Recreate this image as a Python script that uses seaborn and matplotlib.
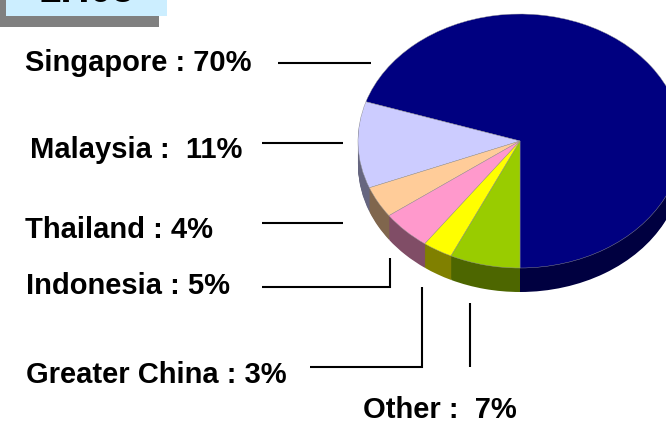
import matplotlib
matplotlib.use("Agg")
import matplotlib.pyplot as plt
import seaborn as sns
from matplotlib.colors import to_rgb

# ---- data ----
regions = ["Singapore", "Malaysia", "Thailand", "Indonesia", "Greater China", "Other"]
shares = [70, 11, 4, 5, 3, 7]
label_texts = ["Singapore : 70%", "Malaysia :  11%", "Thailand : 4%",
               "Indonesia : 5%", "Greater China : 3%", "Other :  7%"]
top_colors = ["#000080", "#CCCCFF", "#FFCC99", "#FF99CC", "#FFFF00", "#99CC00"]
title_text = "1H05"

sns.set_theme(style="white")
plt.rcParams["font.family"] = ["Liberation Sans", "DejaVu Sans"]

W, H = 666, 424
fig = plt.figure(figsize=(W / 100, H / 100), dpi=100)
fig.patch.set_facecolor("white")

# main overlay axes in pixel coordinates
ax = fig.add_axes([0, 0, 1, 1])
ax.set_xlim(0, W)
ax.set_ylim(H, 0)
ax.axis("off")

# partially visible title box at top-left
ax.add_patch(plt.Rectangle((-5, -20), 164, 47, facecolor="#808080", edgecolor="none", zorder=1))
ax.add_patch(plt.Rectangle((6, -20), 161, 36, facecolor="#CCEEFF", edgecolor="none", zorder=2))
ax.text(87, 2, title_text, ha="center", va="baseline", fontsize=29,
        fontweight="bold", color="black", zorder=3, clip_on=True)

# labels
fs = 21
label_pos = [(25, 71), (30, 158), (25, 238), (26, 294), (26, 383), (363, 418)]
for (x, y), t in zip(label_pos, label_texts):
    ax.text(x, y, t, ha="left", va="baseline", fontsize=fs, fontweight="bold", color="black")

# leader lines
lw = 1.5
leaders = [
    ([278, 371], [63, 63]),
    ([262, 343], [143, 143]),
    ([262, 343], [223, 223]),
    ([262, 390, 390], [287, 287, 258]),
    ([310, 422, 422], [367, 367, 287]),
    ([470, 470], [367, 303]),
]
for xs, ys in leaders:
    ax.plot(xs, ys, color="black", lw=lw, solid_capstyle="butt", solid_joinstyle="miter")

# ---- 3D pie ----
cx, cy, a, b, depth_px = 520, 141, 162, 127, 24
depth = depth_px / b
pax = fig.add_axes([(cx - a) / W, (H - (cy + b + depth_px)) / H,
                    2 * a / W, (2 * b + depth_px) / H])
side_colors = [tuple(c * 0.5 for c in to_rgb(col)) for col in top_colors]
side_colors[0] = (0, 0, 0.25)

steps = depth_px
for i in range(steps, 0, -1):
    off = depth * i / steps
    pax.pie(shares, colors=side_colors, startangle=-90, counterclock=True,
            center=(0, -off), radius=1, wedgeprops=dict(linewidth=0))
pax.pie(shares, colors=top_colors, startangle=-90, counterclock=True,
        center=(0, 0), radius=1, wedgeprops=dict(linewidth=0.3, edgecolor="#999999"))
pax.set_aspect("auto")
pax.set_xlim(-1, 1)
pax.set_ylim(-1 - depth, 1)
pax.axis("off")

fig.savefig("out.png", dpi=100, facecolor="white")
